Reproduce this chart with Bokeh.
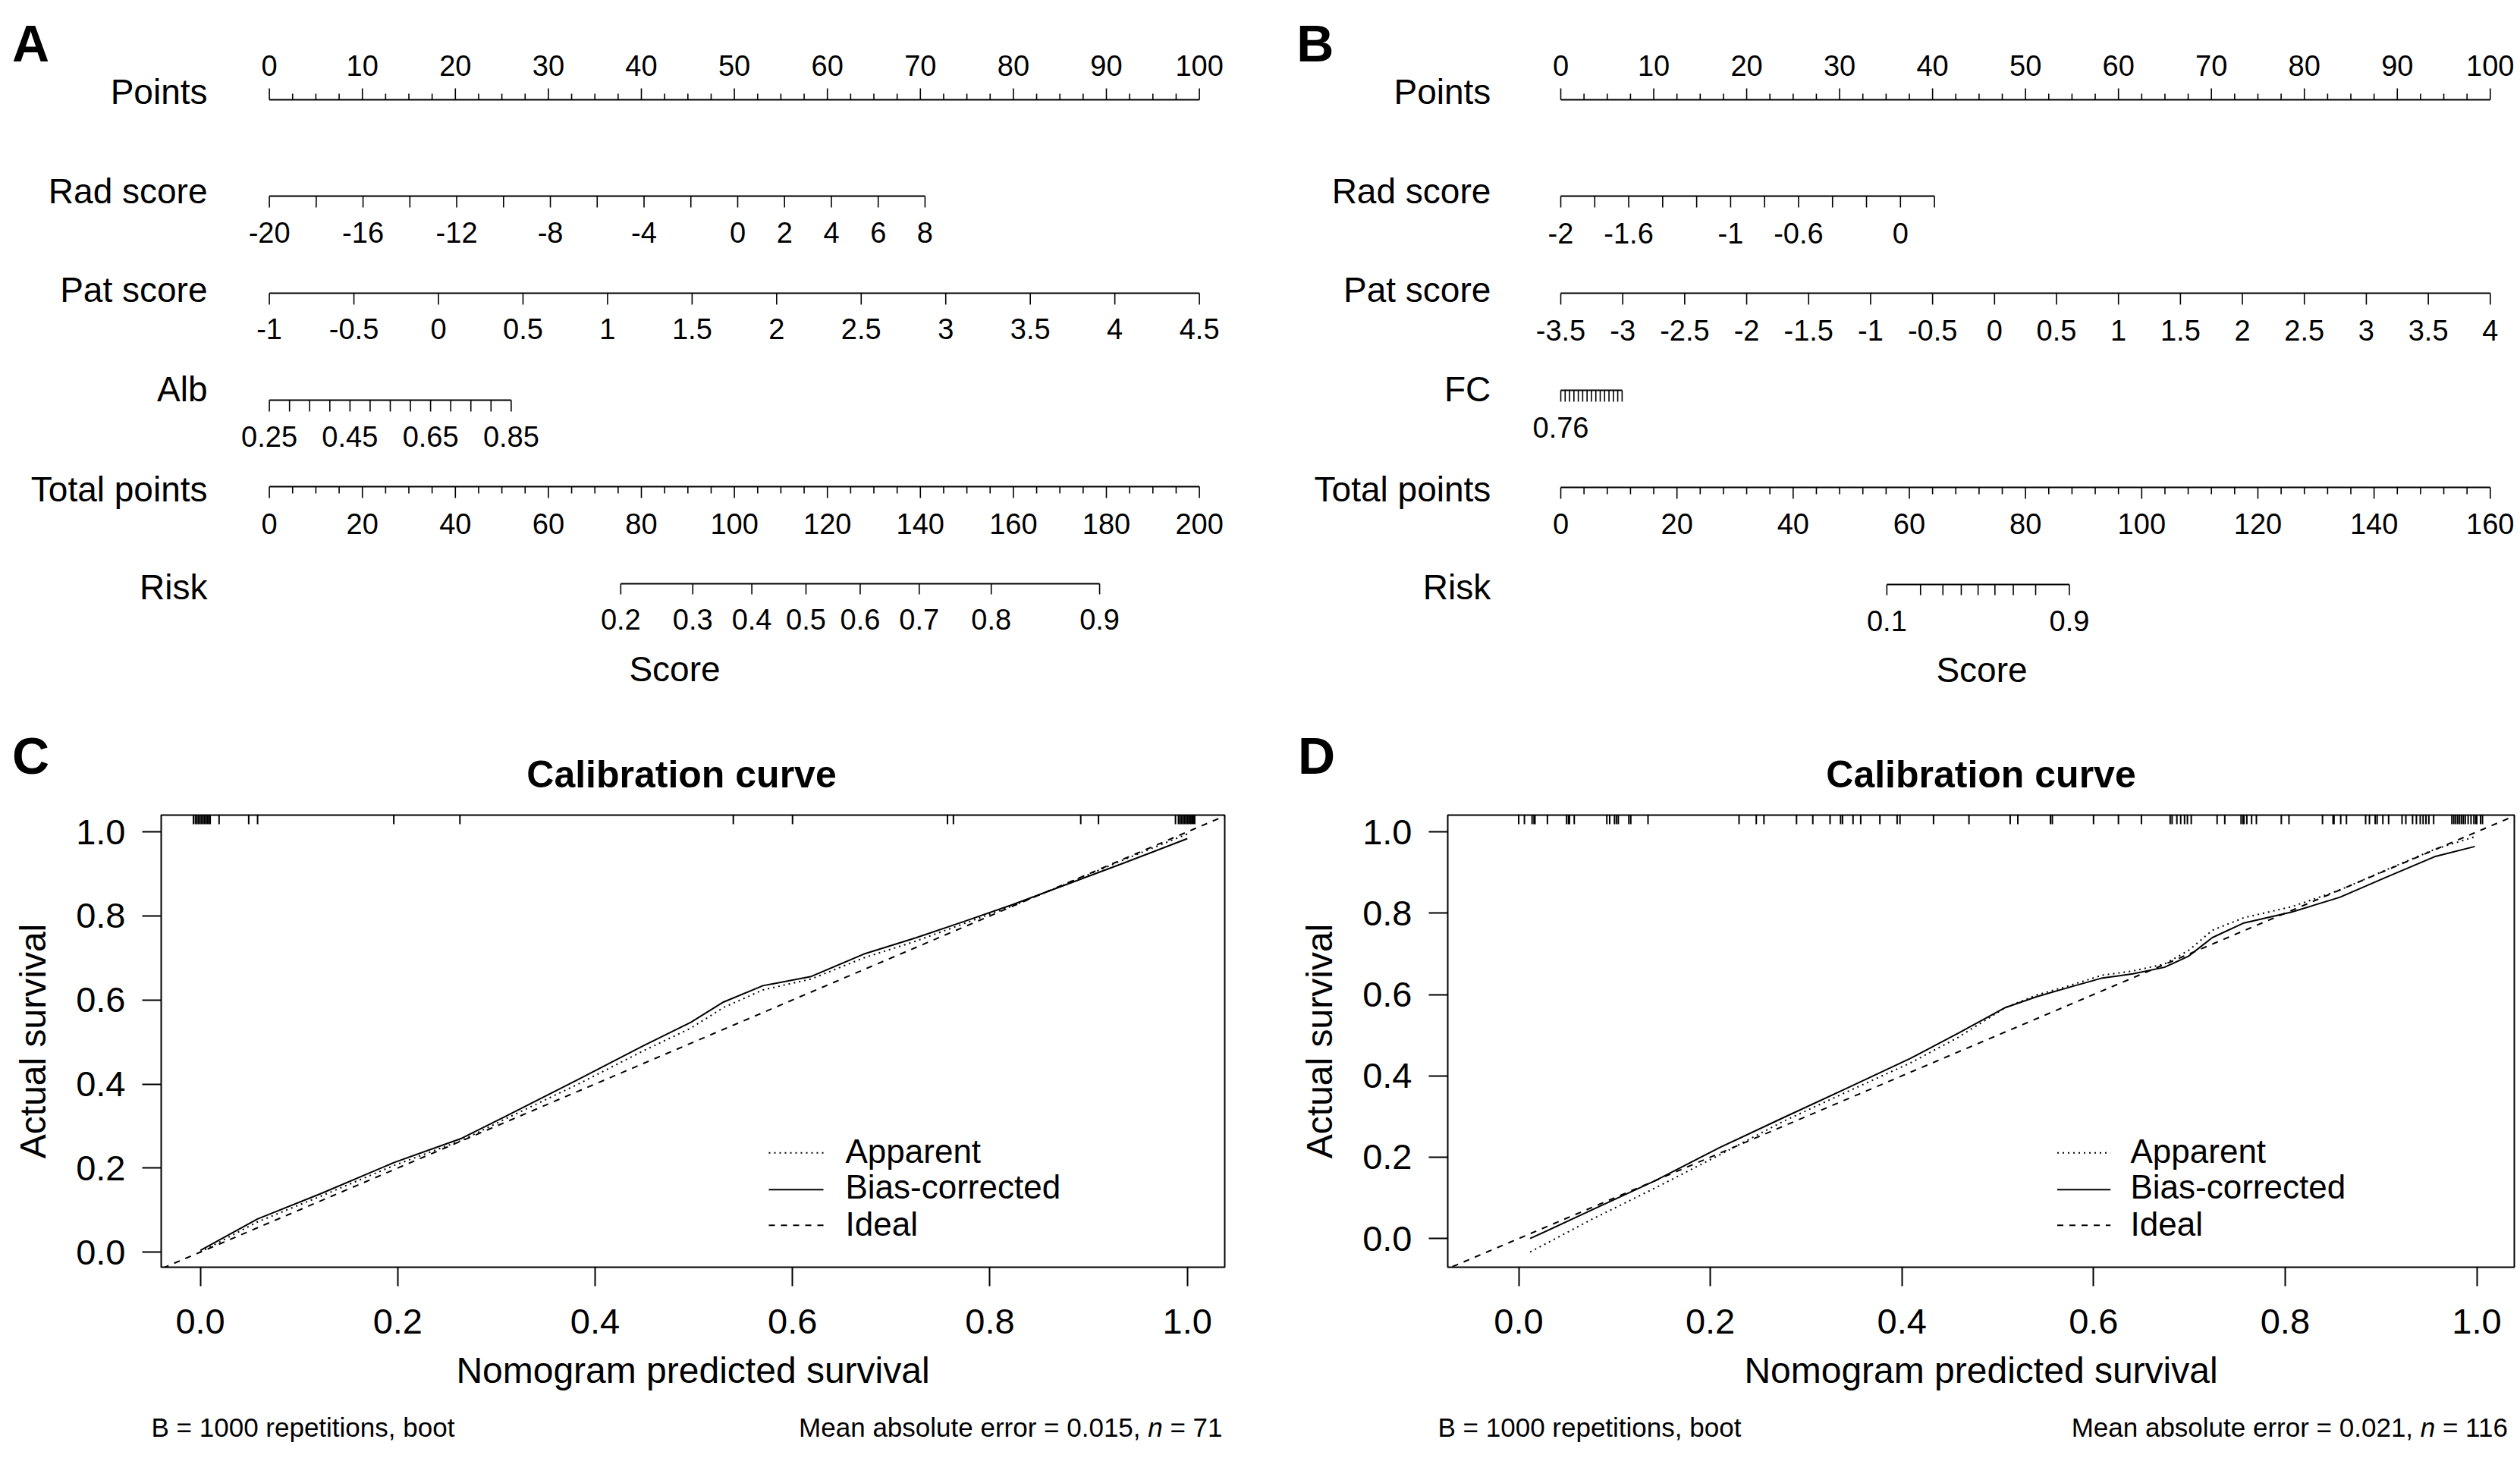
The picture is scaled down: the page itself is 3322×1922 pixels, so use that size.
import numpy as np
from bokeh.core.properties import value
from bokeh.embed import file_html
from bokeh.layouts import column, row
from bokeh.models import FixedTicker, NumeralTickFormatter, Range1d
from bokeh.plotting import figure
from bokeh.resources import INLINE

FONT = "Liberation Sans"

# ------------------------------------------------------------ nomogram A
A_POINTS_LABELS = [0, 10, 20, 30, 40, 50, 60, 70, 80, 90, 100]
A_POINTS_MINOR = 2.5
A_RAD_RANGE = (-20, 8)
A_RAD_POINTS = 70.5
A_RAD_TICKS = [-20, -18, -16, -14, -12, -10, -8, -6, -4, -2, 0, 2, 4, 6, 8]
A_RAD_LABELS = [-20, -16, -12, -8, -4, 0, 2, 4, 6, 8]
A_PAT_RANGE = (-1, 4.5)
A_PAT_POINTS = 100
A_PAT_TICKS = [-1, -0.5, 0, 0.5, 1, 1.5, 2, 2.5, 3, 3.5, 4, 4.5]
A_PAT_LABELS = [-1, -0.5, 0, 0.5, 1, 1.5, 2, 2.5, 3, 3.5, 4, 4.5]
A_ALB_RANGE = (0.25, 0.85)
A_ALB_POINTS = 26.0
A_ALB_TICKS = [0.25, 0.30, 0.35, 0.40, 0.45, 0.50, 0.55, 0.60, 0.65, 0.70, 0.75, 0.80, 0.85]
A_ALB_LABELS = [0.25, 0.45, 0.65, 0.85]
A_TOTAL_LABELS = [0, 20, 40, 60, 80, 100, 120, 140, 160, 180, 200]
A_TOTAL_MINOR = 5
A_RISK_TICKS = [0.2, 0.3, 0.4, 0.5, 0.6, 0.7, 0.8, 0.9]
A_RISK_LABELS = [0.2, 0.3, 0.4, 0.5, 0.6, 0.7, 0.8, 0.9]
A_RISK_COEF = (-4.016, 0.0348)   # logit(risk) = b0 + b1 * total points

# ------------------------------------------------------------ nomogram B
B_POINTS_LABELS = [0, 10, 20, 30, 40, 50, 60, 70, 80, 90, 100]
B_POINTS_MINOR = 2.5
B_RAD_RANGE = (-2, 0.2)
B_RAD_POINTS = 40.2
B_RAD_TICKS = [-2, -1.8, -1.6, -1.4, -1.2, -1, -0.8, -0.6, -0.4, -0.2, 0, 0.2]
B_RAD_LABELS = [-2, -1.6, -1, -0.6, 0]
B_PAT_RANGE = (-3.5, 4)
B_PAT_POINTS = 100
B_PAT_TICKS = [-3.5, -3, -2.5, -2, -1.5, -1, -0.5, 0, 0.5, 1, 1.5, 2, 2.5, 3, 3.5, 4]
B_PAT_LABELS = [-3.5, -3, -2.5, -2, -1.5, -1, -0.5, 0, 0.5, 1, 1.5, 2, 2.5, 3, 3.5, 4]
B_FC_RANGE = (0.76, 0.90)
B_FC_POINTS = 6.6
B_FC_TICKS = [0.76, 0.77, 0.78, 0.79, 0.80, 0.81, 0.82, 0.83, 0.84, 0.85, 0.86, 0.87, 0.88, 0.89, 0.90]
B_FC_LABELS = [0.76]
B_TOTAL_LABELS = [0, 20, 40, 60, 80, 100, 120, 140, 160]
B_TOTAL_MINOR = 4
B_RISK_TICKS = [0.1, 0.2, 0.3, 0.4, 0.5, 0.6, 0.7, 0.8, 0.9]
B_RISK_LABELS = [0.1, 0.9]
B_RISK_COEF = (-10.05, 0.1399)

# ------------------------------------------------------------ calibration C
C_APP_X = [0.0, 0.058, 0.123, 0.196, 0.265, 0.310, 0.383, 0.448, 0.497, 0.530,
           0.570, 0.619, 0.672, 0.725, 0.774, 0.823, 0.880, 0.937, 1.0]
C_APP_Y = [0.0, 0.072, 0.134, 0.206, 0.266, 0.318, 0.400, 0.478, 0.533, 0.582,
           0.624, 0.650, 0.700, 0.740, 0.782, 0.824, 0.879, 0.935, 0.995]
C_BIAS_X = [0.0, 0.058, 0.123, 0.196, 0.265, 0.310, 0.383, 0.448, 0.497, 0.530,
            0.570, 0.619, 0.672, 0.725, 0.774, 0.823, 0.880, 0.937, 1.0]
C_BIAS_Y = [0.004, 0.079, 0.140, 0.213, 0.271, 0.324, 0.411, 0.490, 0.547, 0.595,
            0.634, 0.656, 0.709, 0.748, 0.787, 0.827, 0.877, 0.927, 0.984]
C_RUG = [-0.007, -0.005, -0.0035, -0.002, -0.0005, 0.001, 0.0025, 0.004, 0.0055,
         0.007, 0.0085, 0.010, 0.019, 0.049, 0.058, 0.196, 0.263, 0.540, 0.600,
         0.757, 0.763, 0.892, 0.910, 0.988, 0.991, 0.9925, 0.994, 0.9955, 0.997,
         0.9985, 1.0, 1.0015, 1.003, 1.0045, 1.006, 1.0075]
C_FOOT_LEFT = "B = 1000 repetitions, boot"
C_MAE = "0.015"
C_N = "71"

# ------------------------------------------------------------ calibration D
D_APP_X = [0.012, 0.077, 0.143, 0.210, 0.276, 0.342, 0.409, 0.459, 0.508, 0.541,
           0.575, 0.608, 0.641, 0.674, 0.699, 0.724, 0.757, 0.807, 0.857, 0.906,
           0.956, 0.998]
D_APP_Y = [-0.033, 0.048, 0.125, 0.206, 0.288, 0.360, 0.432, 0.495, 0.568, 0.599,
           0.622, 0.647, 0.658, 0.675, 0.708, 0.758, 0.789, 0.816, 0.857, 0.907,
           0.957, 0.988]
D_BIAS_X = [0.012, 0.077, 0.143, 0.210, 0.276, 0.342, 0.409, 0.459, 0.508, 0.541,
            0.575, 0.608, 0.641, 0.674, 0.699, 0.724, 0.757, 0.807, 0.857, 0.906,
            0.956, 0.998]
D_BIAS_Y = [0.0, 0.071, 0.143, 0.224, 0.297, 0.369, 0.443, 0.505, 0.568, 0.595,
            0.618, 0.640, 0.651, 0.667, 0.694, 0.740, 0.776, 0.803, 0.839, 0.889,
            0.939, 0.964]
D_RUG = [0.0, 0.006, 0.014, 0.016, 0.017, 0.030, 0.050, 0.052, 0.053, 0.058,
         0.092, 0.095, 0.100, 0.102, 0.104, 0.115, 0.117, 0.135, 0.230, 0.248,
         0.256, 0.290, 0.307, 0.325, 0.336, 0.338, 0.349, 0.357, 0.377, 0.395,
         0.398, 0.433, 0.470, 0.513, 0.521, 0.555, 0.557, 0.600, 0.626, 0.650,
         0.680, 0.682, 0.687, 0.691, 0.695, 0.698, 0.702, 0.729, 0.737, 0.754,
         0.756, 0.757, 0.760, 0.765, 0.770, 0.796, 0.804, 0.839, 0.850, 0.851,
         0.858, 0.864, 0.884, 0.888, 0.894, 0.896, 0.902, 0.908, 0.922, 0.926,
         0.933, 0.937, 0.941, 0.944, 0.947, 0.950, 0.955, 0.974, 0.976, 0.978,
         0.980, 0.982, 0.984, 0.986, 0.988, 0.991, 0.994, 0.997, 0.999, 1.0,
         1.004, 1.006]
D_FOOT_LEFT = "B = 1000 repetitions, boot"
D_MAE = "0.021"
D_N = "116"

CAL_TICKS = [0.0, 0.2, 0.4, 0.6, 0.8, 1.0]
LEGEND_NAMES = ["Apparent", "Bias-corrected", "Ideal"]
CAL_TITLE = "Calibration curve"

PAGE_W, PAGE_H = 3322, 1922
TOP_H = 940          # nomogram row
HEAD_H = 130         # letters and titles of the calibration panels
CAL_H = 792          # calibration plots
FOOT_H = 60          # bootstrap notes
FRAME_TOP, FRAME_BOTTOM = 1074, 1670


# ------------------------------------------------------------ helpers
def fmt(v):
    return f"{v:g}"


def lin(vals, rng, maxpts):
    lo, hi = rng
    return [(v - lo) / (hi - lo) * maxpts for v in vals]


def total_to_pts(vals, tmax):
    return [v * 100.0 / tmax for v in vals]


def risk_to_pts(vals, coef, tmax):
    b0, b1 = coef
    return [((np.log(r / (1 - r)) - b0) / b1) * 100.0 / tmax for r in vals]


def minor_between(step, lo, hi, majors):
    vals = np.arange(lo, hi + 1e-9, step)
    return [float(v) for v in vals if not any(abs(v - m) < 1e-9 for m in majors)]


# Arial-like advance widths (em) used to butt text pieces together
ADV = {"M": .833, "e": .556, "a": .556, "n": .556, " ": .278, "b": .556, "s": .5,
       "o": .556, "l": .222, "u": .556, "t": .278, "r": .333, "=": .584, ".": .278,
       ",": .278}


def text_w(s, size):
    return sum(ADV.get(ch, .556) for ch in s) * size


def put_text(p, xs, base, texts, size, align="center", style="normal", up=True):
    """Place texts so that their alphabetic baseline sits at `base` (pixels of a
    top-down axis when up=True; otherwise `base` is already the text middle)."""
    mid = base - 0.358 * size if up else base
    p.text(x=list(xs), y=[mid] * len(xs), text=list(texts), text_align=align,
           text_baseline="middle", text_font=value(FONT), text_font_size=f"{size}px",
           text_font_style=style, text_color="black")


def blank_figure(width, height, x_range, y_range, **kw):
    p = figure(width=width, height=height, x_range=x_range, y_range=y_range,
               output_backend="svg", toolbar_location=None, **kw)
    p.background_fill_color = "white"
    p.border_fill_color = "white"
    return p


def draw_scale(p, r):
    s = -1 if r.get("up") else 1
    y = r["line_y"]
    p.segment(x0=[r["span"][0]], y0=[y], x1=[r["span"][1]], y1=[y],
              line_color="black", line_width=2)
    mj = r["major"]
    p.segment(x0=mj, y0=[y] * len(mj), x1=mj, y1=[y + s * r["major_len"]] * len(mj),
              line_color="black", line_width=1.6)
    mn = r.get("minor", [])
    if mn:
        p.segment(x0=mn, y0=[y] * len(mn), x1=mn, y1=[y + s * r["minor_len"]] * len(mn),
                  line_color="black", line_width=1.6)
    put_text(p, r["label_pts"], r["label_base"], r["label_txt"], 38)


def nomogram(width, pts0_px, pts100_px, rows, name_right_px, letter, letter_px,
             score_px, score_base):
    ppu = (pts100_px - pts0_px) / 100.0
    p = blank_figure(width, TOP_H,
                     Range1d(-pts0_px / ppu, (width - pts0_px) / ppu),
                     Range1d(TOP_H, 0), x_axis_type=None, y_axis_type=None, min_border=0)
    p.outline_line_color = None
    to_pts = lambda px: (px - pts0_px) / ppu
    for r in rows:
        draw_scale(p, r)
        put_text(p, [to_pts(name_right_px)], r["name_base"], [r["name"]], 46, align="right")
    put_text(p, [to_pts(score_px)], score_base, ["Score"], 46)
    put_text(p, [to_pts(letter_px)], 81, [letter], 68, style="bold")
    return p


def var_row(name, line_y, ticks, labels, rng, maxpts, label_base, name_base):
    return dict(name=name, line_y=line_y, span=lin([rng[0], rng[1]], rng, maxpts),
                major=lin(ticks, rng, maxpts), major_len=15,
                label_pts=lin(labels, rng, maxpts), label_txt=[fmt(v) for v in labels],
                label_base=label_base, name_base=name_base)


def points_row(labels, step, name_base, label_base):
    return dict(name="Points", line_y=131, span=[0, 100], major=labels, major_len=15,
                minor=minor_between(step, 0, 100, labels), minor_len=8, up=True,
                label_pts=labels, label_txt=[fmt(v) for v in labels],
                label_base=label_base, name_base=name_base)


def total_row(labels, step, line_y, label_base, name_base):
    tmax = labels[-1]
    return dict(name="Total points", line_y=line_y, span=[0, 100],
                major=total_to_pts(labels, tmax), major_len=15,
                minor=total_to_pts(minor_between(step, 0, tmax, labels), tmax), minor_len=9,
                label_pts=total_to_pts(labels, tmax), label_txt=[fmt(v) for v in labels],
                label_base=label_base, name_base=name_base)


def risk_row(ticks, labels, coef, tmax, line_y, label_base, name_base):
    return dict(name="Risk", line_y=line_y,
                span=risk_to_pts([ticks[0], ticks[-1]], coef, tmax),
                major=risk_to_pts(ticks, coef, tmax), major_len=14,
                label_pts=risk_to_pts(labels, coef, tmax), label_txt=[fmt(v) for v in labels],
                label_base=label_base, name_base=name_base)


# ------------------------------------------------------------ panel A
rows_a = [
    points_row(A_POINTS_LABELS, A_POINTS_MINOR, 137.3, 99.3),
    var_row("Rad score", 258, A_RAD_TICKS, A_RAD_LABELS, A_RAD_RANGE, A_RAD_POINTS, 320, 268.3),
    var_row("Pat score", 386, A_PAT_TICKS, A_PAT_LABELS, A_PAT_RANGE, A_PAT_POINTS, 446.7, 398.3),
    var_row("Alb", 527, A_ALB_TICKS, A_ALB_LABELS, A_ALB_RANGE, A_ALB_POINTS, 588.3, 529.3),
    total_row(A_TOTAL_LABELS, A_TOTAL_MINOR, 641, 703.3, 660.7),
    risk_row(A_RISK_TICKS, A_RISK_LABELS, A_RISK_COEF, A_TOTAL_LABELS[-1], 769, 830, 790),
]
pa = nomogram(1680, 354.6, 1580.6, rows_a, 273, "A", 40, 889, 898.3)

# ------------------------------------------------------------ panel B
rows_b = [
    points_row(B_POINTS_LABELS, B_POINTS_MINOR, 137.3, 99.3),
    var_row("Rad score", 258, B_RAD_TICKS, B_RAD_LABELS, B_RAD_RANGE, B_RAD_POINTS, 320.7, 268.3),
    var_row("Pat score", 386, B_PAT_TICKS, B_PAT_LABELS, B_PAT_RANGE, B_PAT_POINTS, 448.3, 398.3),
    var_row("FC", 514, B_FC_TICKS, B_FC_LABELS, B_FC_RANGE, B_FC_POINTS, 576.7, 529.3),
    total_row(B_TOTAL_LABELS, B_TOTAL_MINOR, 642, 703.3, 660.7),
    risk_row(B_RISK_TICKS, B_RISK_LABELS, B_RISK_COEF, B_TOTAL_LABELS[-1], 770, 831.7, 790),
]
pb = nomogram(1642, 377.0, 1602.3, rows_b, 284.8, "B", 53.4, 932, 899.3)


# ------------------------------------------------------------ calibration panels
def calibration(width, page_x0, frame_l, frame_r, x0_px, x1_px, y0_px, y1_px,
                app_x, app_y, bias_x, bias_y, rug, leg_x0, leg_x1, leg_tx):
    top_px = TOP_H + HEAD_H
    dx = lambda px: (px - x0_px) / (x1_px - x0_px)
    dy = lambda py: (y0_px - py) / (y0_px - y1_px)
    xs, xe = dx(frame_l), dx(frame_r)
    ys, ye = dy(FRAME_BOTTOM), dy(FRAME_TOP)
    p = blank_figure(width, CAL_H, Range1d(xs, xe), Range1d(ys, ye),
                     min_border_left=int(frame_l - page_x0),
                     min_border_right=int(page_x0 + width - frame_r),
                     min_border_top=FRAME_TOP - top_px,
                     min_border_bottom=top_px + CAL_H - FRAME_BOTTOM)
    p.outline_line_color = "black"
    p.outline_line_width = 2
    p.xgrid.visible = False
    p.ygrid.visible = False
    for ax in (p.xaxis[0], p.yaxis[0]):
        ax.ticker = FixedTicker(ticks=CAL_TICKS)
        ax.formatter = NumeralTickFormatter(format="0.0")
        ax.axis_line_color = None
        ax.major_tick_line_color = "black"
        ax.major_tick_line_width = 2
        ax.major_tick_out = 25
        ax.major_tick_in = 0
        ax.minor_tick_line_color = None
        ax.major_label_text_font = FONT
        ax.major_label_text_font_size = "47px"
        ax.major_label_text_color = "black"
        ax.axis_label_text_font = FONT
        ax.axis_label_text_font_size = "48px"
        ax.axis_label_text_font_style = "normal"
        ax.axis_label_text_color = "black"
    p.xaxis.axis_label = "Nomogram predicted survival"
    p.yaxis.axis_label = "Actual survival"
    p.xaxis.major_label_standoff = 30
    p.yaxis.major_label_standoff = 22
    p.xaxis.axis_label_standoff = 19
    p.yaxis.axis_label_standoff = 27

    # ideal reference y = x across the whole frame
    ideal = [xs - 0.1, xe + 0.1]
    p.line(ideal, ideal, line_color="black", line_width=2, line_dash="8 8")
    p.line(app_x, app_y, line_color="black", line_width=2, line_dash="2 5")
    p.line(bias_x, bias_y, line_color="black", line_width=2)

    # distribution of predictions along the top edge
    rug_len = 12 / (y0_px - y1_px)
    p.segment(x0=rug, x1=rug, y0=[ye] * len(rug), y1=[ye - rug_len] * len(rug),
              line_color="black", line_width=2)

    # legend
    dashes = ["2 5", "solid", "8 8"]
    seg_y = [1519.3, 1567.7, 1614.7]
    txt_y = [1532.4, 1579.8, 1628.3]
    for name, dash, sy, ty in zip(LEGEND_NAMES, dashes, seg_y, txt_y):
        p.line([dx(leg_x0), dx(leg_x1)], [dy(sy), dy(sy)], line_color="black",
               line_width=2, line_dash=dash)
        put_text(p, [dx(leg_tx)], dy(ty - 0.358 * 44), [name], 44, align="left", up=False)
    return p


pc = calibration(1680, 0, 212, 1614, 263.6, 1564.7, 1650.1, 1096.1,
                 C_APP_X, C_APP_Y, C_BIAS_X, C_BIAS_Y, C_RUG, 1013, 1085, 1114)
pd_ = calibration(1642, 1680, 1908, 3314, 2001.5, 3264.5, 1632.2, 1096.1,
                  D_APP_X, D_APP_Y, D_BIAS_X, D_BIAS_Y, D_RUG, 2711.5, 2781.7, 2808)

# ------------------------------------------------------------ panel letters and titles
head = blank_figure(PAGE_W, HEAD_H, Range1d(0, PAGE_W), Range1d(TOP_H + HEAD_H, TOP_H),
                    x_axis_type=None, y_axis_type=None, min_border=0)
head.outline_line_color = None
put_text(head, [40, 1735], 1020, ["C", "D"], 68, style="bold")
put_text(head, [898, 2611], 1038.4, [CAL_TITLE, CAL_TITLE], 50, style="bold")

# ------------------------------------------------------------ bootstrap notes
foot_top = PAGE_H - FOOT_H
foot = blank_figure(PAGE_W, FOOT_H, Range1d(0, PAGE_W), Range1d(PAGE_H, foot_top),
                    x_axis_type=None, y_axis_type=None, min_border=0)
foot.outline_line_color = None
FOOT_BASE = 1893.3
FS = 35
for left_px, right_px, left_txt, mae, n in [(199, 1611, C_FOOT_LEFT, C_MAE, C_N),
                                           (1895, 3308, D_FOOT_LEFT, D_MAE, D_N)]:
    put_text(foot, [left_px], FOOT_BASE, [left_txt], FS, align="left")
    part1 = f"Mean absolute error = {mae},"
    part3 = f"= {n}"
    x = right_px - text_w(part1 + " n " + part3, FS)
    put_text(foot, [x], FOOT_BASE, [part1], FS, align="left")
    x += text_w(part1 + " ", FS)
    put_text(foot, [x], FOOT_BASE, ["n"], FS, align="left", style="italic")
    x += text_w("n ", FS)
    put_text(foot, [x], FOOT_BASE, [part3], FS, align="left")

page = column(row(pa, pb, spacing=0), head, row(pc, pd_, spacing=0), foot, spacing=0)

with open("out.html", "w") as f:
    f.write(file_html(page, INLINE))
